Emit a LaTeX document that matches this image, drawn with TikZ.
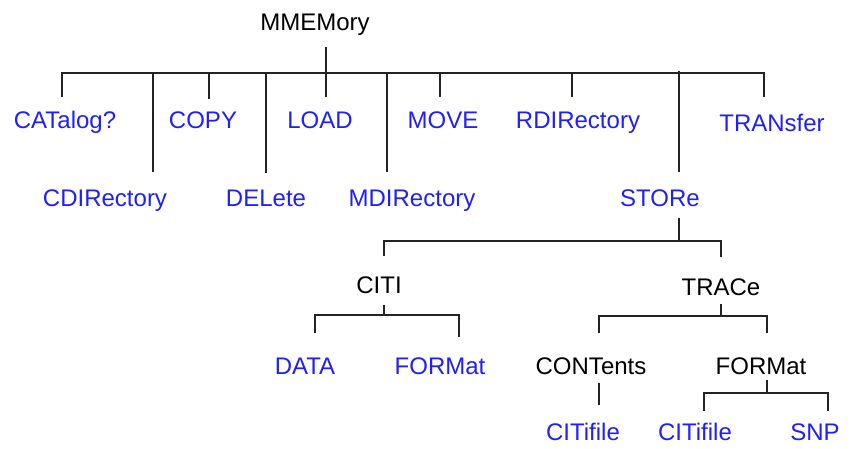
\documentclass[tikz,border=0pt]{standalone}
\usepackage{fontspec}
\setmainfont{Liberation Sans}
\definecolor{cmdblue}{RGB}{30,30,255}
\definecolor{linegray}{RGB}{35,35,35}
\begin{document}
\begin{tikzpicture}[x=1pt,y=-1pt,
  lbl/.style={inner sep=0pt,text height=17pt,text depth=0pt,font=\fontsize{24}{28}\selectfont},
  cmd/.style={lbl,text=cmdblue},
  grp/.style={lbl,text=black},
  wire/.style={draw=linegray,line width=1.3pt}]
\useasboundingbox (0,0) rectangle (851,448);
% labels
\node[grp] (root) at (315,22) {MMEMory};
\node[cmd] (cat) at (65,120) {CATalog?};
\node[cmd] (copy) at (203,120) {COPY};
\node[cmd] (load) at (320,120) {LOAD};
\node[cmd] (move) at (443,120) {MOVE};
\node[cmd] (rdir) at (578,120) {RDIRectory};
\node[cmd] (tran) at (772,123) {TRANsfer};
\node[cmd] (cdir) at (105,198) {CDIRectory};
\node[cmd] (del) at (266,198) {DELete};
\node[cmd] (mdir) at (412,198) {MDIRectory};
\node[cmd] (stor) at (660,198) {STORe};
\node[grp] (citi) at (379,285) {CITI};
\node[grp] (trac) at (721,287) {TRACe};
\node[cmd] (data) at (305,366) {DATA};
\node[cmd] (cfmt) at (440,366) {FORMat};
\node[grp] (cont) at (591,366) {CONTents};
\node[grp] (tfmt) at (761,366) {FORMat};
\node[cmd] (ccit) at (583,432) {CITifile};
\node[cmd] (fcit) at (695,432) {CITifile};
\node[cmd] (snp) at (815,432) {SNP};
% bus junctions
\coordinate (b0) at (326,73);
\coordinate (s0) at (679,241);
\coordinate (c0) at (384,315);
\coordinate (t0) at (721,316);
\coordinate (f0) at (767,393);
% top level
\draw[wire] (326,47) -- (326,97);
\draw[wire] (62,97) |- (764,73) -- (764,97);
\draw[wire] (209,73) -- (209,99);
\draw[wire] (440,73) -- (440,97);
\draw[wire] (572,73) -- (572,97);
\draw[wire] (153,73) -- (153,172);
\draw[wire] (266,73) -- (266,173);
\draw[wire] (387,73) -- (387,172);
\draw[wire] (679,71) -- (679,172);
% STORe
\draw[wire] (679,218) -- (s0);
\draw[wire] (384,256) |- (721,241) -- (721,257);
% CITI
\draw[wire] (384,305) -- (c0);
\draw[wire] (315,333) |- (459,315) -- (459,337);
% TRACe
\draw[wire] (721,304) -- (t0);
\draw[wire] (599,333) |- (767,316) -- (767,333);
% CONTents
\draw[wire] (599,383) -- (599,405);
% FORMat
\draw[wire] (767,380) -- (f0);
\draw[wire] (704,411) |- (828,393) -- (828,411);
\end{tikzpicture}
\end{document}
